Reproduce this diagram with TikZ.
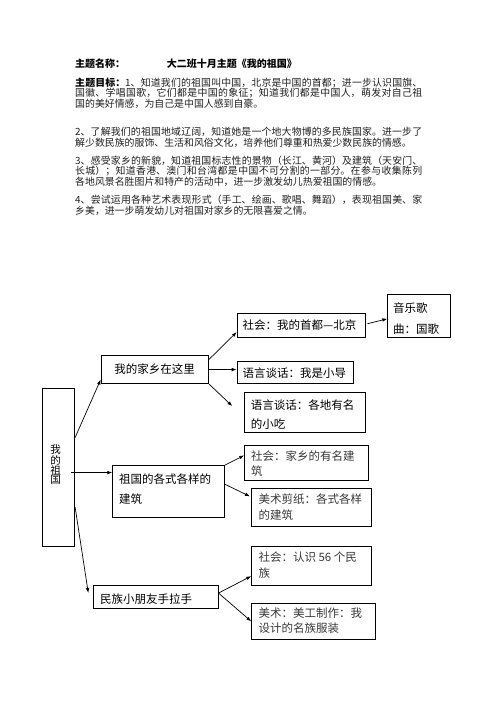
\documentclass[tikz,border=0pt]{standalone}
\usepackage{fontspec}
\setmainfont{Noto Sans CJK SC}
\XeTeXlinebreaklocale "zh"
\XeTeXlinebreakskip=0pt plus 1pt
\usetikzlibrary{arrows.meta}
\tikzset{
  box/.style={draw, line width=0.8pt, inner sep=0pt, anchor=north west},
  arr/.style={line width=0.7pt, -{Latex[length=5pt,width=3.6pt]}},
  dtxt/.style={inner sep=0pt, anchor=west, align=left, font=\fontsize{11.5}{20}\selectfont},
  stxt/.style={dtxt, text=black!78},
  para/.style={inner sep=0pt, anchor=west, text width=347pt, align=justify, text=black!88},
  ttl/.style={inner sep=0pt, anchor=west, font=\fontsize{10}{12}\selectfont\bfseries},
}
\begin{document}
\begin{tikzpicture}[x=1pt,y=-1pt]
\useasboundingbox (0,0) rectangle (496,702);

% heading and goals
\node[ttl] (tname) at (75,64) {主题名称：};
\node[ttl] (ttheme) at (166.7,64) {大二班十月主题《我的祖国》};

\node[para, font=\fontsize{9.9}{10.5}\selectfont] (p1) at (75,93)
 {{\bfseries\color{black}主题目标：}1、知道我们的祖国叫中国，北京是中国的首都；进一步认识国旗、\linebreak 国徽、学唱国歌，它们都是中国的象征；知道我们都是中国人，萌发对自己祖\linebreak 国的美好情感，为自己是中国人感到自豪。};
\node[para, font=\fontsize{9.9}{10.5}\selectfont] (p2) at (75,137.25)
 {2、了解我们的祖国地域辽阔，知道她是一个地大物博的多民族国家。进一步了\linebreak 解少数民族的服饰、生活和风俗文化，培养他们尊重和热爱少数民族的情感。};
\node[para, font=\fontsize{9.9}{10.5}\selectfont] (p3) at (75,171)
 {3、感受家乡的新貌，知道祖国标志性的景物（长江、黄河）及建筑（天安门、\linebreak 长城）；知道香港、澳门和台湾都是中国不可分割的一部分。在参与收集陈列\linebreak 各地风景名胜图片和特产的活动中，进一步激发幼儿热爱祖国的情感。};
\node[para, font=\fontsize{9.9}{10.5}\selectfont] (p4) at (75,205.25)
 {4、尝试运用各种艺术表现形式（手工、绘画、歌唱、舞蹈），表现祖国美、家\linebreak 乡美，进一步萌发幼儿对祖国对家乡的无限喜爱之情。};

% boxes
\node[box, minimum width=32.6pt, minimum height=157.7pt] (root) at (41.7,388.3) {};
\node[box, minimum width=107.6pt, minimum height=28.3pt] (home) at (100.7,355) {};
\node[box, minimum width=112pt, minimum height=52.3pt] (bldg) at (112.3,465) {};
\node[box, minimum width=124.4pt, minimum height=23.3pt] (hand) at (93.3,585) {};
\node[box, minimum width=128.3pt, minimum height=24pt] (beijing) at (236.7,313.3) {};
\node[box, minimum width=62.7pt, minimum height=43pt] (anthem) at (387.3,294.3) {};
\node[box, minimum width=116pt, minimum height=22.3pt] (guide) at (236.7,361) {};
\node[box, minimum width=120.7pt, minimum height=40pt] (snack) at (244.3,392.3) {};
\node[box, minimum width=124pt, minimum height=35.3pt] (famous) at (244.3,445) {};
\node[box, minimum width=120pt, minimum height=38pt] (paper) at (251.3,488.3) {};
\node[box, minimum width=120pt, minimum height=39pt] (ethnic) at (251.3,546) {};
\node[box, minimum width=124pt, minimum height=36.6pt] (costume) at (251.3,602.7) {};

% texts in boxes
\node[inner sep=0pt, align=center, font=\fontsize{10.5}{9.6}\selectfont] (troot) at (55.5,465) {我\\的\\祖\\国};
\node[dtxt, anchor=center] (thome) at (154.5,369.2) {我的家乡在这里};
\node[dtxt, font=\fontsize{11.5}{20}\selectfont] (tbldg) at (119,489.3) {祖国的各式各样的\\建筑};
\node[dtxt] (thand) at (100,598.7) {民族小朋友手拉手};
\node[dtxt] (tbeijing) at (242.3,325.5) {社会：我的首都—北京};
\node[dtxt, font=\fontsize{11.5}{21.6}\selectfont] (tanthem) at (393,318.5) {音乐歌\\曲：国歌};
\node[dtxt] (tguide) at (242.3,373.3) {语言谈话：我是小导};
\node[dtxt, font=\fontsize{11.5}{19}\selectfont] (tsnack) at (250.7,414.5) {语言谈话：各地有名\\的小吃};
\node[stxt, font=\fontsize{11.5}{15.5}\selectfont] (tfamous) at (251,463.5) {社会：家乡的有名建\\筑};
\node[stxt, font=\fontsize{11.5}{15.7}\selectfont] (tpaper) at (258.3,507.2) {美术剪纸：各式各样\\的建筑};
\node[stxt, font=\fontsize{11.5}{16}\selectfont] (tethnic) at (258.3,564.7) {社会：认识 56 个民\\族};
\node[stxt, font=\fontsize{11.5}{15}\selectfont] (tcostume) at (258.3,620.8) {美术：美工制作：我\\设计的名族服装};

% connectors
\draw[arr] ([yshift=30pt]root.east) -- ([yshift=-10pt]home.west);
\draw[arr] ([shift={(-4pt,-5pt)}]root.east) -- ([yshift=-5pt]root.east -| bldg.west);
\draw[arr] ([yshift=-39.5pt]root.east) -- ([shift={(-5pt,4pt)}]hand.west);

\draw[arr] ([yshift=10.2pt]home.east) -- ([yshift=-6.4pt]beijing.west);
\draw[arr] (home.east) -- (home.east -| guide.west);
\draw[arr] (home.south east) -- ([shift={(-12pt,6.6pt)}]snack.west);
\draw[arr] ([shift={(1.7pt,2pt)}]beijing.east) -- ([yshift=-2.6pt]anthem.west);

\draw[arr] (bldg.north east) -- ([yshift=7.7pt]famous.west);
\draw[arr] ([yshift=7.2pt]bldg.east) -- ([shift={(-1.3pt,11.3pt)}]paper.west);

\draw[arr] ([yshift=4pt]hand.east) -- ([yshift=-10.2pt]ethnic.west);
\draw[arr] ([yshift=4pt]hand.east) -- (costume.west);
\end{tikzpicture}
\end{document}
